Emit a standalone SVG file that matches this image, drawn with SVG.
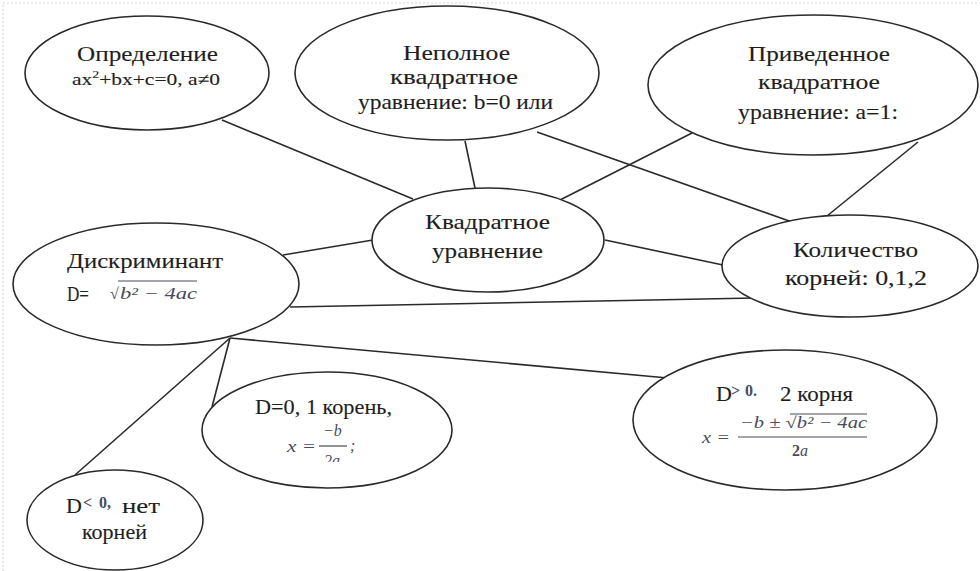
<svg xmlns="http://www.w3.org/2000/svg" width="980" height="571" viewBox="0 0 980 571">
<style>
.bg{fill:#ffffff}
.frame{fill:none;stroke:#e2e2e2;stroke-width:1.5;stroke-dasharray:2 2}
.node ellipse{fill:#ffffff;stroke:#2a2a2a;stroke-width:1.6}
.edge line{stroke:#2a2a2a;stroke-width:1.6}
.t{fill:#1e1e1e;font-size:22px;stroke:#1e1e1e;stroke-width:0.12}
.s{font-size:17px}
.m{font-style:italic;fill:#4a4a5c;font-size:16px}
.mb{fill:#4a4a5c;font-size:16px;font-weight:bold}
.bar{stroke:#4a4a5c;stroke-width:1.2}
</style>
<defs>
<clipPath id="clipD0"><rect x="200" y="370" width="260" height="92"/></clipPath>
</defs>
<rect class="bg" x="0" y="0" width="980" height="571"/>
<path class="frame" d="M3 571 V3 H980"/>
<g id="connectors" class="edge">
<line x1="222" y1="120" x2="413" y2="199"/>
<line x1="465" y1="141" x2="475" y2="188"/>
<line x1="537" y1="132" x2="792" y2="222"/>
<line x1="692" y1="133" x2="560" y2="200"/>
<line x1="918" y1="142" x2="827" y2="216"/>
<line x1="283" y1="255" x2="373" y2="240"/>
<line x1="605" y1="240" x2="723" y2="265"/>
<line x1="290" y1="307" x2="755" y2="298"/>
<line x1="230" y1="338" x2="668" y2="378"/>
<line x1="230" y1="338" x2="212" y2="407"/>
<line x1="230" y1="338" x2="75" y2="475"/>
</g>
<g font-family="Liberation Serif, Tinos, Times New Roman, DejaVu Serif, serif">
<g id="definition" class="node">
<ellipse cx="147" cy="73" rx="122" ry="57"/>
<text class="t" x="77" y="61" textLength="141" lengthAdjust="spacingAndGlyphs">Определение</text>
<text class="t s" x="72" y="85" textLength="148" lengthAdjust="spacingAndGlyphs">ax<tspan font-size="11" dy="-7">2</tspan><tspan dy="7">+bx+c=0, a≠0</tspan></text>
</g>
<g id="incomplete" class="node">
<ellipse cx="447" cy="73" rx="152" ry="67"/>
<text class="t" x="403" y="60" textLength="107" lengthAdjust="spacingAndGlyphs">Неполное</text>
<text class="t" x="390" y="84" textLength="128" lengthAdjust="spacingAndGlyphs">квадратное</text>
<text class="t" x="358" y="109" textLength="195" lengthAdjust="spacingAndGlyphs">уравнение: b=0 или</text>
</g>
<g id="reduced" class="node">
<ellipse cx="813" cy="85" rx="165" ry="70"/>
<text class="t" x="748" y="61" textLength="142" lengthAdjust="spacingAndGlyphs">Приведенное</text>
<text class="t" x="758" y="89" textLength="122" lengthAdjust="spacingAndGlyphs">квадратное</text>
<text class="t" x="738" y="119" textLength="160" lengthAdjust="spacingAndGlyphs">уравнение: a=1:</text>
</g>
<g id="quadratic" class="node">
<ellipse cx="488" cy="240" rx="116" ry="52"/>
<text class="t" x="425" y="229" textLength="125" lengthAdjust="spacingAndGlyphs">Квадратное</text>
<text class="t" x="432" y="258" textLength="111" lengthAdjust="spacingAndGlyphs">уравнение</text>
</g>
<g id="discriminant" class="node">
<ellipse cx="156" cy="284" rx="143" ry="61"/>
<text class="t" x="67" y="268" textLength="156" lengthAdjust="spacingAndGlyphs">Дискриминант</text>
<text class="t" x="67" y="301" font-size="20" textLength="22" lengthAdjust="spacingAndGlyphs">D=</text>
<text class="m" x="110" y="299" font-style="normal">√</text>
<line class="bar" x1="118" y1="281" x2="197" y2="281"/>
<text class="m" x="120" y="299" textLength="77" lengthAdjust="spacingAndGlyphs">b² − 4ac</text>
</g>
<g id="roots-count" class="node">
<ellipse cx="850" cy="266" rx="128" ry="51"/>
<text class="t" x="793" y="257" textLength="125" lengthAdjust="spacingAndGlyphs">Количество</text>
<text class="t" x="785" y="285" textLength="142" lengthAdjust="spacingAndGlyphs">корней: 0,1,2</text>
</g>
<g id="d-zero" class="node">
<ellipse cx="327" cy="430" rx="125" ry="58"/>
<text class="t" x="255" y="414" font-size="20" textLength="137" lengthAdjust="spacingAndGlyphs">D=0, 1 корень,</text>
<text class="m" x="323" y="436" font-size="16">−b</text>
<line class="bar" x1="319" y1="446" x2="347" y2="446"/>
<text class="m" x="287" y="452" font-size="19" textLength="29" lengthAdjust="spacingAndGlyphs">x =</text>
<text class="m" x="350" y="451" font-size="16" font-style="normal">;</text>
<text class="m" x="324" y="466" font-size="16" clip-path="url(#clipD0)">2a</text>
</g>
<g id="d-positive" class="node">
<ellipse cx="785" cy="420" rx="152" ry="70"/>
<text class="t" x="716" y="401" font-size="21">D</text>
<text class="mb" x="731" y="396" font-weight="normal">&gt;</text>
<text class="mb" x="745" y="396">0.</text>
<text class="t" x="780" y="401" font-size="20" textLength="73" lengthAdjust="spacingAndGlyphs">2 корня</text>
<text class="m" x="702" y="443" font-size="19" textLength="28" lengthAdjust="spacingAndGlyphs">x =</text>
<text class="m" x="740" y="428" font-size="15" textLength="127" lengthAdjust="spacingAndGlyphs">−b ± √b² − 4ac</text>
<line class="bar" x1="790" y1="414" x2="867" y2="414"/>
<line class="bar" x1="738" y1="437" x2="867" y2="437"/>
<text class="mb" x="792" y="456">2<tspan font-style="italic" font-weight="normal">a</tspan></text>
</g>
<g id="d-negative" class="node">
<ellipse cx="115" cy="520" rx="88" ry="50"/>
<text class="t" x="66" y="513" font-size="21">D</text>
<text class="mb" x="83" y="508" font-weight="normal">&lt;</text>
<text class="mb" x="99" y="508">0,</text>
<text class="t" x="122" y="513" font-size="15" textLength="38" lengthAdjust="spacingAndGlyphs">нет</text>
<text class="t" x="82" y="539" font-size="18" textLength="65" lengthAdjust="spacingAndGlyphs">корней</text>
</g>
</g>
</svg>
